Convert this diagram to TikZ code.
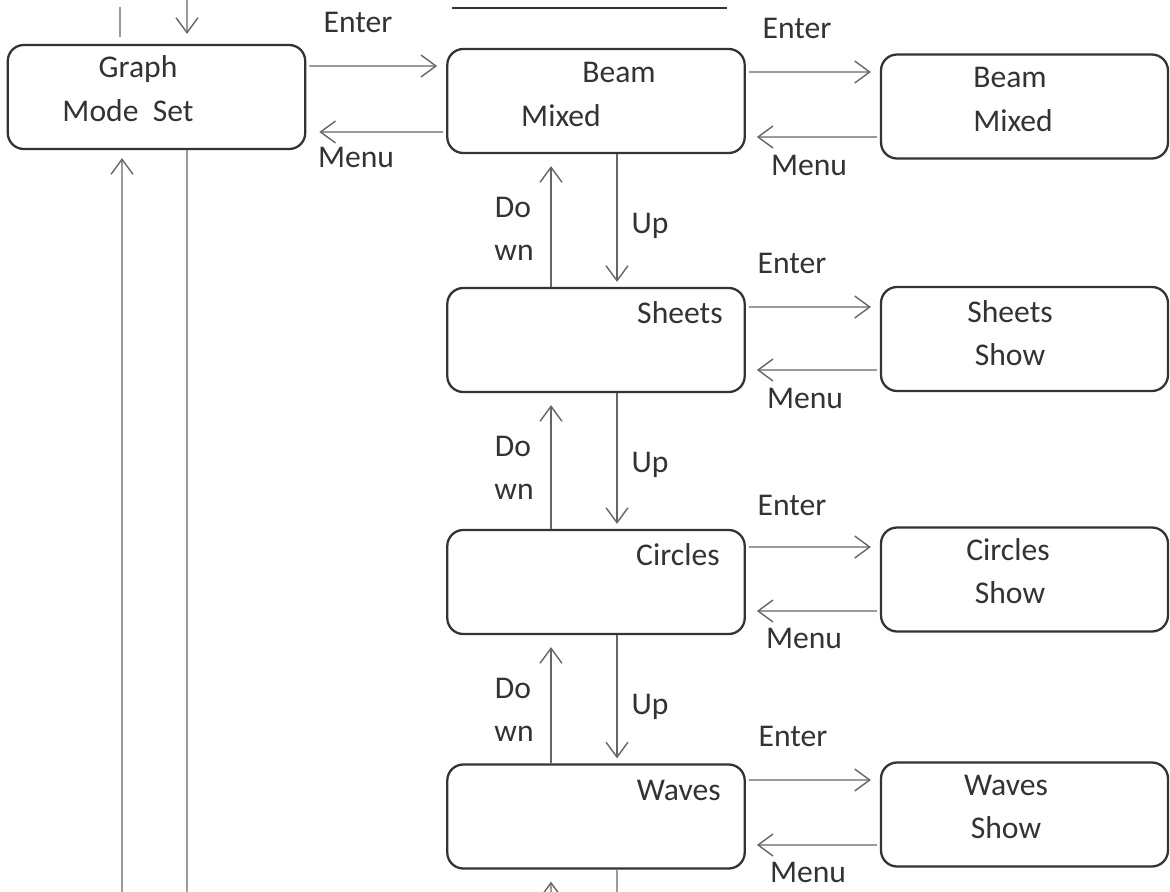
\documentclass[tikz,border=0pt]{standalone}
\usepackage{fontspec}
\setmainfont{Carlito}
\usetikzlibrary{arrows.meta}

\begin{document}
\begin{tikzpicture}[x=0.02cm,y=-0.02cm,>={Straight Barb[length=3mm,width=4.4mm]},
 font=\fontsize{18}{21}\selectfont,
 box/.style={draw=black!80,line width=1.3pt,rounded corners=0.32cm,minimum width=5.95cm,minimum height=2.08cm,inner sep=0pt},
 rbox/.style={box,minimum width=5.74cm},
 conn/.style={->,draw=black!60,line width=0.8pt,shorten <=0.06cm,shorten >=0.18cm},
 back/.style={conn,shorten >=0.22cm},
 wire/.style={draw=black!60,line width=0.8pt},
 txt/.style={anchor=base,inner sep=0pt,text=black!80}]
\useasboundingbox (0,0) rectangle (1170,892);
% screens
\node[box] (gms) at (156.5,97) {};
\node[box] (bm) at (596,101) {};
\node[rbox] (bmr) at (1024.5,106.5) {};
\node[box] (sh) at (596,340) {};
\node[rbox] (shr) at (1024.5,339) {};
\node[box] (ci) at (596,582) {};
\node[rbox] (cir) at (1024.5,579.5) {};
\node[box] (wv) at (596,816.5) {};
\node[rbox] (wvr) at (1024.5,814.5) {};
% screen texts
\node[txt] (gmsa) at (138,78) {Graph};
\node[txt] (gmsb) at (128,122) {Mode\ \ Set};
\node[txt] (bma) at (619,83) {Beam};
\node[txt] (bmb) at (561,127) {Mixed};
\node[txt] (bmra) at (1010,88) {Beam};
\node[txt] (bmrb) at (1013,132) {Mixed};
\node[txt,anchor=base east] (sha) at (723,323) {Sheets};
\node[txt] (shra) at (1010,322) {Sheets};
\node[txt] (shrb) at (1010,365) {Show};
\node[txt,anchor=base east] (cia) at (720,565) {Circles};
\node[txt] (cira) at (1008,560) {Circles};
\node[txt] (cirb) at (1010,603) {Show};
\node[txt,anchor=base east] (wva) at (721,800) {Waves};
\node[txt] (wvra) at (1006,795) {Waves};
\node[txt] (wvrb) at (1006,838) {Show};
% enter / menu
\draw[conn] ([yshift=0.62cm]gms.east) -- ([yshift=0.70cm]bm.west);
\draw[back,shorten >=0.26cm] ([yshift=-0.62cm]bm.west) -- ([yshift=-0.70cm]gms.east);
\draw[conn] ([yshift=0.58cm]bm.east) -- ([yshift=0.69cm]bmr.west);
\draw[back] ([yshift=-0.61cm]bmr.west) -- ([yshift=-0.72cm]bm.east);
\draw[conn] ([yshift=0.66cm]sh.east) -- ([yshift=0.64cm]shr.west);
\draw[back] ([yshift=-0.62cm]shr.west) -- ([yshift=-0.60cm]sh.east);
\draw[conn] ([yshift=0.70cm]ci.east) -- ([yshift=0.65cm]cir.west);
\draw[back] ([yshift=-0.63cm]cir.west) -- ([yshift=-0.58cm]ci.east);
\draw[conn] ([yshift=0.73cm]wv.east) -- ([yshift=0.69cm]wvr.west);
\draw[back] ([yshift=-0.61cm]wvr.west) -- ([yshift=-0.57cm]wv.east);
\node[txt] (en1) at (358,33) {Enter};
\node[txt] (mn1) at (356,168) {Menu};
\node[txt] (en2) at (797,39) {Enter};
\node[txt] (mn2) at (809,175) {Menu};
\node[txt] (en3) at (792,273) {Enter};
\node[txt] (mn3) at (805,408) {Menu};
\node[txt] (en4) at (792,515) {Enter};
\node[txt] (mn4) at (804,648) {Menu};
\node[txt] (en5) at (793,746) {Enter};
\node[txt] (mn5) at (808,882) {Menu};
% up / down
\draw[conn,shorten <=0pt,shorten >=0.24cm] ([xshift=-0.9cm]sh.north) -- ([xshift=-0.9cm]bm.south);
\draw[conn,shorten <=0pt,shorten >=0.1cm] ([xshift=0.42cm]bm.south) -- ([xshift=0.42cm]sh.north);
\draw[conn,shorten <=0pt,shorten >=0.24cm] ([xshift=-0.9cm]ci.north) -- ([xshift=-0.9cm]sh.south);
\draw[conn,shorten <=0pt,shorten >=0.1cm] ([xshift=0.42cm]sh.south) -- ([xshift=0.42cm]ci.north);
\draw[conn,shorten <=0pt,shorten >=0.24cm] ([xshift=-0.9cm]wv.north) -- ([xshift=-0.9cm]ci.south);
\draw[conn,shorten <=0pt,shorten >=0.1cm] ([xshift=0.42cm]ci.south) -- ([xshift=0.42cm]wv.north);
\node[txt] (do1) at (513,217) {Do}; \node[txt] (wn1) at (514,260) {wn}; \node[txt] (up1) at (650,233) {Up};
\node[txt] (do2) at (513,456) {Do}; \node[txt] (wn2) at (514,499) {wn}; \node[txt] (up2) at (650,472) {Up};
\node[txt] (do3) at (513,698) {Do}; \node[txt] (wn3) at (514,741) {wn}; \node[txt] (up3) at (650,714) {Up};
% off the page
\coordinate (bot1) at (551,892); \coordinate (bot2) at (617,892);
\draw[conn,shorten <=0pt,shorten >=0.24cm] (bot1) -- ([xshift=-0.9cm]wv.south);
\draw[wire] ([xshift=0.42cm]wv.south) -- (bot2);
\coordinate (loopin) at (122,892); \coordinate (loopout) at (187,892);
\draw[conn,shorten <=0pt,shorten >=0.16cm] (loopin) -- ([xshift=-0.69cm]gms.south);
\draw[wire] ([xshift=0.61cm]gms.south) -- (loopout);
\coordinate (topout) at (120,7); \coordinate (topin) at (187,0);
\draw[wire,shorten >=0.14cm] (topout) -- ([xshift=-0.73cm]gms.north);
\draw[conn,shorten <=0pt,shorten >=0.2cm] (topin) -- ([xshift=0.61cm]gms.north);
\coordinate (ula) at (452,8); \coordinate (ulb) at (727,8);
\draw[wire,draw=black!80,line width=1.1pt] (ula) -- (ulb);
\end{tikzpicture}
\end{document}
